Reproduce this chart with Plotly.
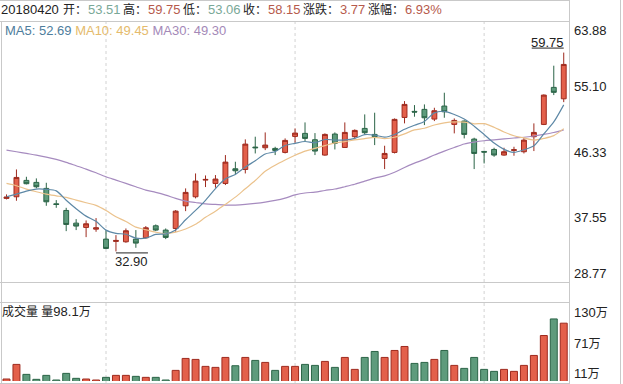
import plotly.graph_objects as go

# ---------------- data ----------------
opens = [40.06, 40.28, 42.49, 42.22, 41.41, 39.33, 38.43, 36.72, 36.14, 35.91,
         34.56, 34.25, 34.20, 34.56, 34.74, 36.36, 35.78, 36.00, 39.06, 40.28,
         42.53, 42.08, 42.08, 44.06, 43.97, 46.99, 46.90, 46.81, 46.27, 48.43,
         48.84, 47.98, 45.91, 48.75, 46.94, 48.39, 49.51, 48.70, 45.46, 46.27,
         50.99, 51.81, 52.08, 50.77, 52.53, 50.05, 50.50, 48.07, 46.40, 46.67,
         45.91, 46.54, 46.36, 48.39, 50.05, 55.05, 53.51]
highs = [40.60, 43.97, 42.98, 42.76, 42.17, 39.83, 38.79, 37.26, 37.08, 37.40,
         35.78, 35.10, 36.00, 35.78, 36.32, 36.54, 36.00, 38.48, 41.41, 43.43,
         43.16, 43.21, 45.91, 45.01, 48.03, 48.39, 48.97, 47.03, 48.16, 49.51,
         50.32, 48.88, 48.84, 48.97, 50.32, 49.38, 51.40, 51.63, 47.17, 50.86,
         53.20, 52.66, 52.75, 52.30, 54.33, 50.86, 50.59, 48.25, 46.49, 46.90,
         46.90, 47.03, 48.25, 50.19, 54.10, 57.98, 59.75]
lows = [39.92, 39.74, 41.95, 41.41, 39.06, 38.79, 35.64, 35.78, 34.83, 35.55,
        33.21, 32.90, 34.07, 33.39, 34.65, 35.64, 34.56, 35.55, 38.34, 40.06,
        41.59, 41.50, 41.86, 43.30, 43.43, 46.13, 46.58, 45.91, 46.13, 47.58,
        47.80, 45.91, 45.82, 46.67, 46.90, 48.03, 48.70, 47.26, 44.02, 46.13,
        50.19, 51.09, 49.96, 50.50, 50.95, 48.84, 48.16, 44.02, 44.78, 45.68,
        45.82, 45.82, 46.13, 46.45, 49.96, 54.01, 53.06]
closes = [40.24, 42.89, 42.04, 41.63, 39.60, 39.24, 36.54, 36.32, 36.63, 36.09,
          33.30, 34.38, 35.69, 34.02, 36.09, 35.78, 34.79, 38.34, 40.87, 42.40,
          42.62, 42.67, 44.96, 43.79, 47.39, 46.90, 47.26, 46.54, 47.89, 48.88,
          48.16, 46.45, 48.70, 47.49, 48.97, 49.24, 48.93, 48.39, 46.13, 50.73,
          52.75, 51.72, 50.95, 51.90, 51.76, 50.59, 48.70, 46.13, 46.31, 45.91,
          46.36, 46.63, 47.93, 48.97, 54.01, 54.38, 58.15]
# volume in 万 (10k shares)
volumes = [14, 36, 21, 13.5, 19.5, 12.5, 22.5, 15, 14, 12.5,
           16.5, 19.5, 19.5, 18, 16.5, 16.5, 12.5, 27, 45, 43.5,
           33, 31.5, 46.5, 34, 46.5, 42, 39, 27, 33, 33,
           36, 34.5, 40.5, 31.5, 46.5, 28.5, 46.5, 55.5, 46.5, 57,
           63, 37.5, 39, 43.5, 57, 34.5, 30, 46.5, 28.5, 25.5,
           28.5, 25.5, 34.5, 49.5, 79.5, 104.5, 98.1]
# moving-average values before enough visible closes exist
ma5_head = [40.28, 40.64, 41.05, 41.32]
ma10_head = [42.08, 41.77, 41.32, 40.96, 40.64, 40.41, 40.19, 39.83, 39.47]
ma30_head = [46.58, 46.36, 46.13, 45.91, 45.64, 45.32, 44.92, 44.47, 44.02, 43.52,
             42.98, 42.53, 42.08, 41.63, 41.18, 40.87, 40.50, 40.06, 39.69, 39.51,
             39.33, 39.24, 39.15, 39.15, 39.24, 39.38, 39.56, 39.79, 40.10]

price_ticks = [63.88, 55.10, 46.33, 37.55, 28.77]
vol_ticks = [130, 71, 11]
vol_tick_text = ["130万", "71万", "11万"]
grid_idx = [10, 29, 48]

header_date = "20180420"
header_items = [("开", "53.51", "down"), ("高", "59.75", "up"), ("低", "53.06", "down"),
                ("收", "58.15", "up"), ("涨跌", "3.77", "up"), ("涨幅", "6.93%", "up")]
ma_labels = [("MA5", "52.69"), ("MA10", "49.45"), ("MA30", "49.30")]
vol_label = ("成交量 量", "98.1", "万")
max_label = "59.75"
min_label = "32.90"

# ---------------- styling / layout constants ----------------
W, H = 623, 384
RED, RED_EDGE = "#E3604B", "#9E2A1E"
GREEN, GREEN_EDGE = "#5E9B7C", "#2B6447"
MA_COLORS = ["#5D88A6", "#EBC28C", "#A68BBF"]
MA_TEXT = ["#4E7D9C", "#E5BB6C", "#A489B8"]
UP_TXT, DOWN_TXT = "#B65A4C", "#7AA897"
BORDER = "#C9C9C9"
FONT = "Liberation Sans, Arial, Noto Sans CJK SC, sans-serif"
# left pixel positions of (label, value) pieces in the header row
HEADER_POS = [(61, 86), (121, 146), (181, 206), (241, 266), (301, 338), (366, 403)]


def px(xp):
    return xp / W


def py(yp):
    return 1 - yp / H


def moving_average(vals, n, head):
    out = []
    for i in range(len(vals)):
        if i >= n - 1:
            out.append(sum(vals[i - n + 1:i + 1]) / n)
        else:
            out.append(head[i])
    return out


x = list(range(len(closes)))
ma5 = moving_average(closes, 5, ma5_head)
ma10 = moving_average(closes, 10, ma10_head)
ma30 = moving_average(closes, 30, ma30_head)

fig = go.Figure()
for vals, col in zip([ma30, ma10, ma5], [MA_COLORS[2], MA_COLORS[1], MA_COLORS[0]]):
    fig.add_trace(go.Scatter(x=x, y=vals, mode="lines",
                             line=dict(color=col, width=1.2, shape="spline", smoothing=0.8),
                             xaxis="x", yaxis="y", hoverinfo="skip"))

fig.add_trace(go.Candlestick(
    x=x, open=opens, high=highs, low=lows, close=closes,
    increasing=dict(fillcolor=RED, line=dict(color=RED_EDGE, width=1)),
    decreasing=dict(fillcolor=GREEN, line=dict(color=GREEN_EDGE, width=1)),
    whiskerwidth=0, xaxis="x", yaxis="y", hoverinfo="skip"))

up = [c >= o for o, c in zip(opens, closes)]
fig.add_trace(go.Bar(
    x=x, y=volumes, width=0.7,
    marker=dict(color=[RED if u else GREEN for u in up],
                line=dict(color=[RED_EDGE if u else GREEN_EDGE for u in up], width=1)),
    xaxis="x", yaxis="y2", hoverinfo="skip"))

# ---------------- frame / grid ----------------
shapes = []
for gi in grid_idx:
    shapes.append(dict(type="line", xref="x", yref="paper", x0=gi, x1=gi,
                       y0=py(384), y1=py(22), layer="below",
                       line=dict(color="#D2D2D2", width=1, dash="dot")))


def hline(yp, x0p, x1p):
    shapes.append(dict(type="line", xref="paper", yref="paper", x0=px(x0p), x1=px(x1p),
                       y0=py(yp), y1=py(yp), line=dict(color=BORDER, width=1)))


def vline(xp, y0p, y1p):
    shapes.append(dict(type="line", xref="paper", yref="paper", x0=px(xp), x1=px(xp),
                       y0=py(y0p), y1=py(y1p), line=dict(color=BORDER, width=1)))


hline(0.5, 0, 569.5)
hline(21.5, 0, 569.5)
hline(282.5, 0, 569.5)
hline(302.5, 0, 569.5)
hline(383.5, 0, 569.5)
vline(1.5, 21.5, 384)
vline(569.5, 0, 384)
vline(620.5, 0, 384)

# max / min markers
imax = highs.index(max(highs))
imin = lows.index(min(lows))
shapes.append(dict(type="line", xref="x", yref="y", xsizemode="pixel", ysizemode="pixel",
                   xanchor=imax, yanchor=max(highs),
                   x0=-32, x1=0, y0=4.5, y1=4.5, line=dict(color="#222", width=1)))
shapes.append(dict(type="line", xref="x", yref="y", xsizemode="pixel", ysizemode="pixel",
                   xanchor=imin, yanchor=min(lows),
                   x0=0, x1=32, y0=-1.5, y1=-1.5, line=dict(color="#222", width=1)))

ann = []


def cjk(s):
    return "<span style='font-size:12px'>%s</span>" % s


def text_at(xp, yp, text, color="#222", size=13):
    ann.append(dict(xref="paper", yref="paper", x=px(xp), y=py(yp), xanchor="left",
                    yanchor="middle", text=text, showarrow=False,
                    font=dict(family=FONT, size=size, color=color)))


# header row
text_at(-1, 9.5, header_date)
for (lab, val, d), (xl, xv) in zip(header_items, HEADER_POS):
    text_at(xl, 9.5, cjk(lab + "："))
    text_at(xv, 9.5, val, UP_TXT if d == "up" else DOWN_TXT)

ma_text = " ".join("<span style='color:%s'>%s: %s</span>" % (MA_TEXT[k], n, v)
                   for k, (n, v) in enumerate(ma_labels))
text_at(3, 30.5, ma_text)
text_at(0, 311, cjk(vol_label[0]) + vol_label[1] + cjk(vol_label[2]))

# right axis labels
shifts = [-9, 0.5, -0.8, -0.3, 8.4]
for v, s in zip(price_ticks, shifts):
    ann.append(dict(xref="paper", yref="y", x=px(571.5), y=v, yshift=s, xanchor="left",
                    yanchor="middle", text="%.2f" % v, showarrow=False,
                    font=dict(family=FONT, size=13, color="#222")))
vshifts = [-10.5, -2, 7.5]
for v, t, s in zip(vol_ticks, vol_tick_text, vshifts):
    ann.append(dict(xref="paper", yref="y2", x=px(571.5), y=v, yshift=s, xanchor="left",
                    yanchor="middle", text=t.replace("万", "") + cjk("万"), showarrow=False,
                    font=dict(family=FONT, size=13, color="#222")))

# max / min labels
ann.append(dict(xref="x", yref="y", x=imax, y=max(highs), xanchor="right",
                yanchor="middle", xshift=2, yshift=10.5, text=max_label, showarrow=False,
                font=dict(family=FONT, size=13, color="#222")))
ann.append(dict(xref="x", yref="y", x=imin, y=min(lows), xanchor="left",
                yanchor="middle", xshift=-3, yshift=-10.5, text=min_label, showarrow=False,
                font=dict(family=FONT, size=13, color="#222")))

fig.update_layout(
    width=W, height=H, autosize=False,
    margin=dict(l=0, r=0, t=0, b=0, pad=0),
    paper_bgcolor="white", plot_bgcolor="rgba(0,0,0,0)",
    showlegend=False, hovermode=False,
    xaxis=dict(domain=[px(1.5), px(569.5)], range=[-0.5025, 56.58], visible=False,
               rangeslider=dict(visible=False), fixedrange=True),
    yaxis=dict(domain=[py(282), py(22)], range=[28.77, 63.88], visible=False, fixedrange=True),
    yaxis2=dict(domain=[py(381), py(302)], range=[11, 130], visible=False, anchor="x",
                fixedrange=True),
    shapes=shapes, annotations=ann,
)

fig.write_html("out.html", config={"displayModeBar": False},
               post_script="document.body.style.margin='0';document.body.style.overflow='hidden';")
